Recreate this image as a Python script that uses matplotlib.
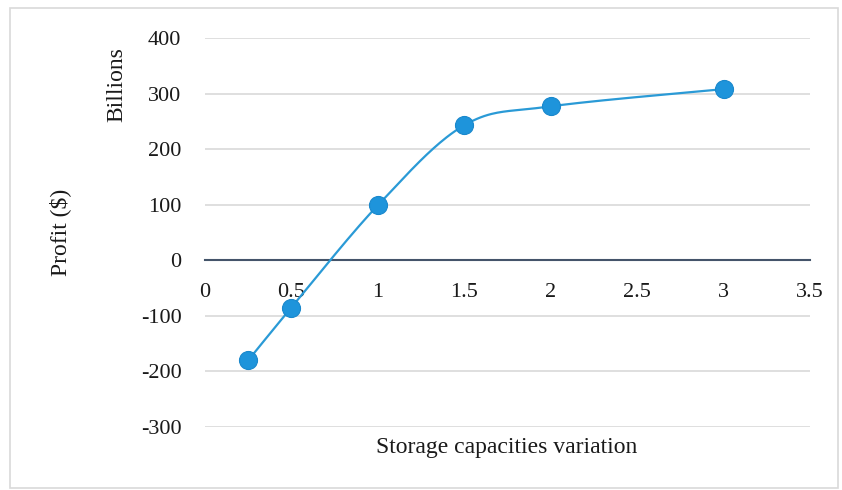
import numpy as np
import matplotlib
matplotlib.use("Agg")
import matplotlib.pyplot as plt
from matplotlib.patches import Rectangle

x_vals = [0.25, 0.5, 1.0, 1.5, 2.0, 3.0]
profit = [-180, -85, 99, 243, 277, 308]
x_ticks = [0, 0.5, 1, 1.5, 2, 2.5, 3, 3.5]
x_tick_labels = ["0", "0.5", "1", "1.5", "2", "2.5", "3", "3.5"]
y_ticks = [-300, -200, -100, 0, 100, 200, 300, 400]

plt.rcParams['font.family'] = ['Liberation Serif', 'DejaVu Serif']
plt.rcParams['axes.unicode_minus'] = False

def smooth(xs, ys, n=40):
    P = np.column_stack([xs, ys]).astype(float)
    out = []
    m = len(P)
    for i in range(m - 1):
        p0 = P[i - 1] if i > 0 else P[i]
        p1 = P[i]
        p2 = P[i + 1]
        p3 = P[i + 2] if i + 2 < m else P[i + 1]
        c1 = p1 + (p2 - p0) / 6.0
        c2 = p2 - (p3 - p1) / 6.0
        t = np.linspace(0, 1, n)[:, None]
        seg = ((1 - t) ** 3) * p1 + 3 * ((1 - t) ** 2) * t * c1 + 3 * (1 - t) * t ** 2 * c2 + t ** 3 * p2
        out.append(seg if i == 0 else seg[1:])
    S = np.vstack(out)
    return S[:, 0], S[:, 1]

fig = plt.figure(figsize=(8.42, 4.9), dpi=100)
ax = fig.add_axes([205 / 842, 1 - 427 / 490, (810 - 205) / 842, (427 - 38) / 490])

ax.set_xlim(0, 3.5)
ax.set_ylim(-300, 400)
ax.set_yticks(y_ticks)
ax.set_xticks(x_ticks)
ax.set_xticklabels(x_tick_labels)
ax.grid(axis='y', color='#d9d9d9', linewidth=1.2)
ax.set_axisbelow(True)
for s in ['top', 'right', 'left']:
    ax.spines[s].set_visible(False)
ax.spines['bottom'].set_position(('data', 0))
ax.spines['bottom'].set_color('#44546A')
ax.spines['bottom'].set_linewidth(1.5)
ax.tick_params(axis='both', length=0, labelsize=16, colors='#1a1a1a')
ax.tick_params(axis='y', pad=17)
ax.tick_params(axis='x', pad=16)

sx, sy = smooth(x_vals, profit)
ax.plot(sx, sy, color='#2A9AD6', linewidth=1.6, zorder=3)
ax.plot(x_vals, profit, linestyle='none', marker='o', markersize=13,
        markerfacecolor='#1E94DB', markeredgecolor='#1A88CC', markeredgewidth=0.8, zorder=4)

fig.text(507 / 842, 1 - 447 / 490, "Storage capacities variation", ha='center', va='center',
         fontsize=17, color='#1a1a1a')
fig.text(60 / 842, 1 - 232 / 490, "Profit ($)", ha='center', va='center', rotation=90,
         fontsize=17, color='#1a1a1a')
fig.text(117 / 842, 1 - 85 / 490, "Billions", ha='center', va='center', rotation=90,
         fontsize=17, color='#1a1a1a')

fig.patches.append(Rectangle((10 / 842, 2 / 490), 828 / 842, 480 / 490, transform=fig.transFigure,
                             fill=False, edgecolor='#d9d9d9', linewidth=1.2))

fig.savefig("out.png", dpi=100)
